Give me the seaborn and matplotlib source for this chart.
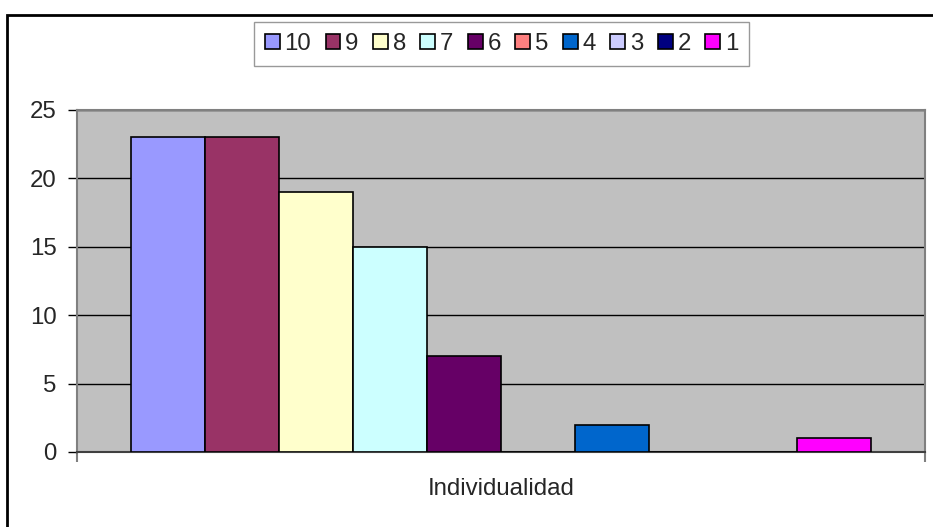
import matplotlib
matplotlib.use('Agg')
import matplotlib.pyplot as plt
from matplotlib.patches import Rectangle
import seaborn as sns
import pandas as pd

# data
categoria = 'Individualidad'
series = ['10', '9', '8', '7', '6', '5', '4', '3', '2', '1']
valores = [23, 23, 19, 15, 7, 0, 2, 0, 0, 1]
colores = ['#9999FF', '#993366', '#FFFFCC', '#CCFFFF', '#660066',
           '#FF8080', '#0066CC', '#CCCCFF', '#000080', '#FF00FF']

df = pd.DataFrame({'cat': [categoria] * len(series), 'serie': series, 'valor': valores})

sns.set_style('white')
plt.rcParams['font.family'] = ['Liberation Sans', 'DejaVu Sans']
fs = 17.3

fig = plt.figure(figsize=(9.33, 5.27), dpi=100)
ax = fig.add_axes([77 / 933, 1 - 452 / 527, (925 - 77) / 933, (452 - 110) / 527])
ax.set_facecolor('#C0C0C0')

sns.barplot(data=df, x='cat', y='valor', hue='serie', hue_order=series,
            palette=dict(zip(series, colores)), width=0.873, gap=0,
            edgecolor='black', linewidth=1.2, saturation=1, ax=ax, zorder=3)

ax.set_xlim(-0.5, 0.5)
ax.set_ylim(0, 25)
ax.set_yticks(range(0, 26, 5))
ax.yaxis.grid(True, color='black', linewidth=1, zorder=1)
ax.set_axisbelow(True)
ax.set_xlabel('')
ax.set_ylabel('')
for s in ax.spines.values():
    s.set_color('#808080')
    s.set_linewidth(1.5)
ax.spines['bottom'].set_color('#404040')

ax.tick_params(axis='y', direction='out', length=6.5, width=1, color='black',
               labelsize=fs, pad=8, left=True)
ax.set_xticks([0])
ax.set_xticklabels([categoria], fontsize=fs)
ax.tick_params(axis='x', which='major', length=0, pad=19)
ax.set_xticks([-0.5, 0.5], minor=True)
ax.tick_params(axis='x', which='minor', direction='out', length=7, width=1.5,
               color='#808080', bottom=True)

handles, labels = ax.get_legend_handles_labels()
ax.get_legend().remove()
leg = fig.legend(handles, labels, loc='center', bbox_to_anchor=(501.5 / 933, 1 - 44 / 527),
                 ncol=10, fontsize=fs, frameon=True, fancybox=False,
                 handlelength=0.62, handleheight=0.62, handletextpad=0.2,
                 columnspacing=0.6, borderpad=0.45)
leg.get_frame().set_edgecolor('#808080')
leg.get_frame().set_linewidth(1)

fig.patches.append(Rectangle((7 / 933, -0.1), 2, 1 - 15 / 527 + 0.1, transform=fig.transFigure,
                             fill=False, edgecolor='black', linewidth=2))

fig.savefig('out.png', dpi=100)
